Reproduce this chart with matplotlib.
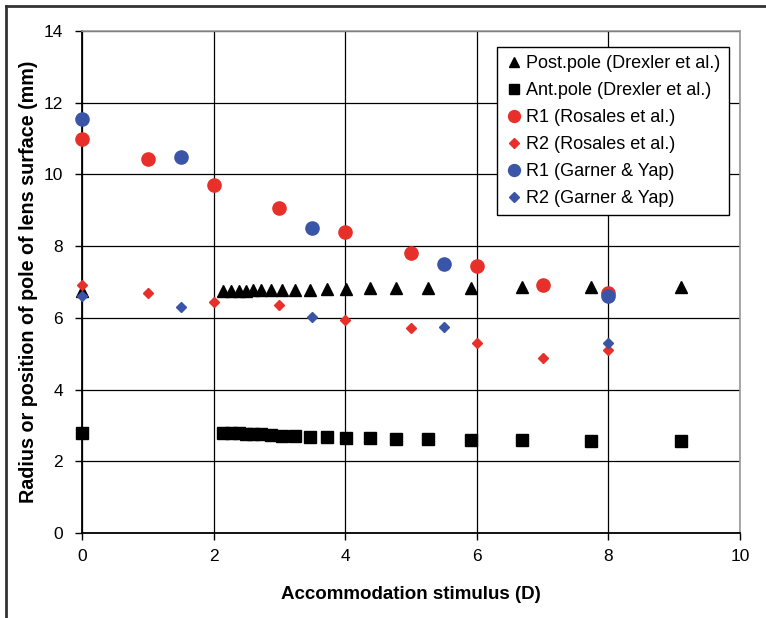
import matplotlib
matplotlib.use('Agg')
import matplotlib.pyplot as plt
from matplotlib.lines import Line2D

plt.rcParams['font.family'] = ['Liberation Sans', 'DejaVu Sans']

# Drexler et al. (post. and ant. pole positions)
drexler_x = [0, 2.15, 2.26, 2.38, 2.49, 2.60, 2.72, 2.87, 3.04, 3.24, 3.47,
             3.72, 4.01, 4.38, 4.78, 5.26, 5.92, 6.68, 7.73, 9.10]
post_pole = [6.75, 6.76, 6.76, 6.76, 6.76, 6.77, 6.77, 6.78, 6.78, 6.79, 6.79,
             6.80, 6.81, 6.82, 6.82, 6.83, 6.84, 6.85, 6.86, 6.87]
ant_pole = [2.78, 2.79, 2.78, 2.78, 2.77, 2.76, 2.75, 2.72, 2.71, 2.70, 2.69,
            2.67, 2.65, 2.64, 2.63, 2.61, 2.59, 2.59, 2.56, 2.56]

# Rosales et al.
rosales_x = [0, 1, 2, 3, 4, 5, 6, 7, 8]
rosales_r1 = [11.0, 10.42, 9.70, 9.06, 8.39, 7.81, 7.45, 6.92, 6.69]
rosales_r2 = [6.93, 6.68, 6.43, 6.35, 5.95, 5.71, 5.31, 4.88, 5.10]

# Garner & Yap
garner_x = [0, 1.5, 3.5, 5.5, 8]
garner_r1 = [11.54, 10.49, 8.51, 7.50, 6.62]
garner_r2 = [6.62, 6.29, 6.03, 5.75, 5.31]

RED = '#e8302a'
BLUE = '#3a55a8'

fig = plt.figure(figsize=(7.66, 6.18), dpi=100)
ax = fig.add_axes([0.107, 0.1375, 0.859, 0.8123])

kw = dict(ls='none', clip_on=False, zorder=3)
ax.plot(drexler_x, post_pole, '^', color='black', ms=8,
        label='Post.pole (Drexler et al.)', **kw)
ax.plot(drexler_x, ant_pole, 's', color='black', ms=8.5,
        label='Ant.pole (Drexler et al.)', **kw)
ax.plot(rosales_x, rosales_r1, 'o', color=RED, ms=9.5,
        label='R1 (Rosales et al.)', **kw)
ax.plot(rosales_x, rosales_r2, 'D', color=RED, ms=5.5,
        label='R2 (Rosales et al.)', **kw)
ax.plot(garner_x, garner_r1, 'o', color=BLUE, ms=9.5,
        label='R1 (Garner & Yap)', **kw)
ax.plot(garner_x, garner_r2, 'D', color=BLUE, ms=5.5,
        label='R2 (Garner & Yap)', **kw)

ax.set_xlim(0, 10)
ax.set_ylim(0, 14)
ax.set_xticks(range(0, 11, 2))
ax.set_yticks(range(0, 15, 2))
ax.grid(True, color='black', lw=0.9)
ax.set_axisbelow(True)
for s in ['top', 'right']:
    ax.spines[s].set_color('#999999')
    ax.spines[s].set_linewidth(1.2)
for s in ['left', 'bottom']:
    ax.spines[s].set_color('black')
    ax.spines[s].set_linewidth(1.3)
ax.tick_params(direction='out', length=5, width=1, labelsize=12.5)
ax.tick_params(axis='y', pad=8.5)
ax.tick_params(axis='x', pad=6.5)

ax.set_xlabel('Accommodation stimulus (D)', fontsize=13.5, fontweight='bold',
              labelpad=16)
ax.set_ylabel('Radius or position of pole of lens surface (mm)', fontsize=14.2,
              fontweight='bold', labelpad=4)

leg = ax.legend(loc='upper right', bbox_to_anchor=(0.983, 0.968),
                borderaxespad=0, fontsize=13, frameon=True, fancybox=False,
                edgecolor='black', framealpha=1, handlelength=1.0,
                handletextpad=0.2, labelspacing=0.55, borderpad=0.45,
                markerscale=0.9)
leg.get_frame().set_linewidth(1.0)

# figure border (top and left only)
fig.add_artist(Line2D([0.008, 1.0], [0.99, 0.99], color='#333333', lw=2,
                      transform=fig.transFigure))
fig.add_artist(Line2D([0.008, 0.008], [0.0, 0.99], color='#333333', lw=2,
                      transform=fig.transFigure))

fig.savefig('out.png', dpi=100)
